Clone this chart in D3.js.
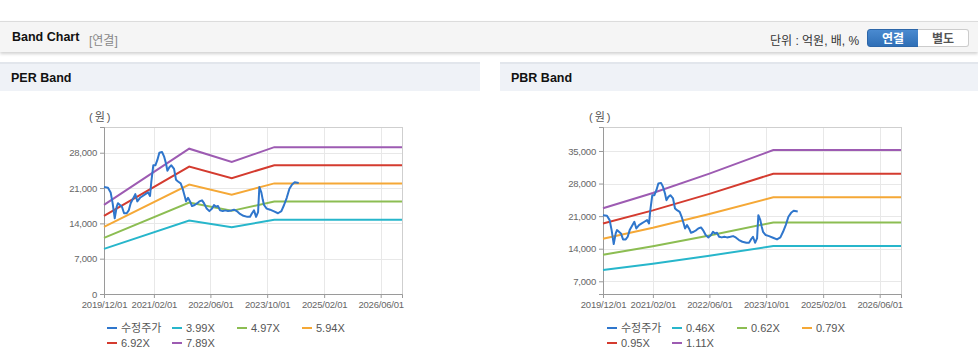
<!DOCTYPE html>
<html>
<head>
<meta charset="utf-8">
<script src="https://cdn.jsdelivr.net/npm/d3@7"></script>
<style>
  body { margin: 0; width: 978px; height: 362px; background: #fff; overflow: hidden;
         font-family: "Liberation Sans", Arial, "Noto Sans CJK KR", sans-serif; position: relative; }
  .topbar { position: absolute; left: 0; top: 21px; width: 978px; height: 30px; background: #f5f5f5;
            border-top: 1px solid #dcdcdc; box-shadow: 0 2px 3px rgba(0,0,0,0.18); }
  .title { position: absolute; left: 12px; top: 8px; font-size: 12.5px; font-weight: bold; color: #111; }
  .sub { position: absolute; left: 89px; top: 9px; font-size: 12px; color: #888; }
  .unit { position: absolute; left: 770px; top: 9px; font-size: 12px; color: #333; }
  .btn { position: absolute; top: 7px; height: 18px; line-height: 18px; width: 52px; text-align: center;
         font-size: 12px; font-weight: bold; box-sizing: border-box; }
  .btn.on { left: 867px; background: linear-gradient(#4a8ad0, #2f6fb6); color: #fff; border: 1px solid #2c66a8; border-radius: 3px 0 0 3px; }
  .btn.off { left: 918px; width: 51px; background: #fff; color: #555; border: 1px solid #ccc; border-left: none; border-radius: 0 3px 3px 0; }
  .panelhead { position: absolute; top: 62px; height: 29px; background: #eff2f7; border-top: 2px solid #e2e6ec; box-sizing: border-box; }
  .panelhead span { position: absolute; left: 11px; top: 7px; font-size: 12.5px; font-weight: bold; color: #111; }
  svg.chart { position: absolute; top: 92px; }
  .tick text { font-size: 9.5px; letter-spacing: -0.2px; fill: #666; font-family: "Liberation Sans", Arial, sans-serif; }
</style>
</head>
<body>
<div class="topbar">
  <div class="title">Band Chart</div>
  <div class="sub">[연결]</div>
  <div class="unit">단위 : 억원, 배, %</div>
  <div class="btn on">연결</div>
  <div class="btn off">별도</div>
</div>
<div class="panelhead" style="left:0;width:480px"><span>PER Band</span></div>
<div class="panelhead" style="left:500px;width:478px"><span>PBR Band</span></div>

<script>
// Adjusted share price (수정주가), shared by both charts
const priceDates = ['2019-12-01','2020-01-04','2020-01-27','2020-02-13','2020-03-02','2020-03-19','2020-03-30',
  '2020-04-16','2020-05-03','2020-05-21','2020-06-13','2020-06-30','2020-07-17','2020-08-26','2020-09-12',
  '2020-10-05','2020-10-28','2020-11-20','2020-12-13','2020-12-30','2021-01-10','2021-01-27','2021-02-14',
  '2021-03-03','2021-03-20','2021-04-12','2021-04-29','2021-05-16','2021-05-28','2021-06-14','2021-07-01',
  '2021-07-24','2021-08-10','2021-08-27','2021-09-19','2021-10-06','2021-10-23','2021-11-04','2021-11-21',
  '2021-12-08','2021-12-25','2022-01-17','2022-02-09','2022-02-26','2022-03-21','2022-04-07','2022-04-30',
  '2022-05-23','2022-06-15','2022-07-02','2022-07-19','2022-08-05','2022-08-23','2022-09-15','2022-10-07',
  '2022-10-30','2022-11-28','2022-12-21','2023-01-13','2023-02-10','2023-03-11','2023-04-14','2023-05-07',
  '2023-05-24','2023-06-10','2023-06-28','2023-07-15','2023-07-26','2023-08-12','2023-08-24','2023-09-04',
  '2023-09-27','2023-10-26','2023-11-29','2024-01-02','2024-01-31','2024-02-23','2024-03-17','2024-04-09',
  '2024-05-02','2024-05-24','2024-06-28'];
const priceValues = [21200,21070,20140,18000,15000,17290,18000,17640,17290,16000,16000,16570,18000,19790,18360,
  19070,19430,19790,20140,19430,22290,25500,25500,26570,28000,28140,27290,25860,24430,25140,25500,
  24790,22640,22290,21930,20860,19430,18360,19070,18360,17430,17640,18000,18360,18570,18000,16930,
  16430,16930,17640,17290,17430,16570,16430,16570,16430,16570,16710,16430,15860,15500,15290,15290,
  16000,16570,15290,16210,21210,20140,18710,17640,16930,16710,16360,16000,16430,17640,19070,20860,
  21710,22140,22000];

// PER band
const perDates = ['2019-12-01','2021-12-01','2022-12-01','2023-12-01','2026-12-01'];
const perNames = ['3.99X','4.97X','5.94X','6.92X','7.89X'];
const per399 = [8940, 14560, 13230, 14720, 14720];
const per497 = [11130, 18140, 16480, 18340, 18340];
const per594 = [13310, 21680, 19690, 21920, 21920];
const per692 = [15500, 25260, 22940, 25530, 25530];
const per789 = [17670, 28800, 26160, 29110, 29110];
const perTicks = [0, 7000, 14000, 21000, 28000];

// PBR band
const pbrDates = ['2019-12-01','2021-02-01','2022-06-01','2023-12-01','2026-12-01'];
const pbrNames = ['0.46X','0.62X','0.79X','0.95X','1.11X'];
const pbr046 = [9410, 10760, 12490, 14580, 14580];
const pbr062 = [12680, 14510, 16830, 19650, 19650];
const pbr079 = [16160, 18490, 21450, 25040, 25040];
const pbr095 = [19430, 22230, 25790, 30120, 30120];
const pbr111 = [22700, 25970, 30140, 35190, 35190];
const pbrTicks = [7000, 14000, 21000, 28000, 35000];

const xTickDates = ['2019-12-01','2021-02-01','2022-06-01','2023-10-01','2025-02-01','2026-06-01'];
const bandColors = ['#27b6cb', '#8cbd52', '#f5a836', '#d43b2f', '#9d5bb2'];
const priceColor = '#2f76cc';

const parseDate = d3.timeParse('%Y-%m-%d');

function drawBand(left, cfg) {
  let margin = { top: 35, left: cfg.marginLeft };
  let width = 298, height = 167;

  let svg = d3.select('body').append('svg')
    .attr('class', 'chart')
    .style('left', left + 'px')
    .attr('width', cfg.svgWidth)
    .attr('height', 268);

  let g = svg.append('g').attr('transform', `translate(${margin.left}, ${margin.top})`);

  let x = d3.scaleTime()
    .domain([parseDate('2019-12-01'), parseDate('2026-12-01')])
    .range([0, width]);
  let y = d3.scaleLinear().domain(cfg.yDomain).range([height, 0]);

  // grid
  g.append('g').selectAll('line').data(cfg.ticks).enter().append('line')
    .attr('x1', 0).attr('x2', width)
    .attr('y1', d => Math.round(y(d)) + 0.5).attr('y2', d => Math.round(y(d)) + 0.5)
    .attr('stroke', '#e8e8e8');
  g.append('g').selectAll('line').data(xTickDates.slice(1)).enter().append('line')
    .attr('y1', 0).attr('y2', height)
    .attr('x1', d => Math.round(x(parseDate(d))) + 0.5).attr('x2', d => Math.round(x(parseDate(d))) + 0.5)
    .attr('stroke', '#e8e8e8');

  g.append('rect')
    .attr('x', 0.5).attr('y', 0.5).attr('width', width).attr('height', height)
    .attr('fill', 'none').attr('stroke', '#cfcfcf');

  // axes
  let xAxis = g.append('g')
    .attr('transform', `translate(0, ${height})`)
    .call(d3.axisBottom(x).tickValues(xTickDates.map(parseDate))
      .tickFormat(d3.timeFormat('%Y/%m/%d')).tickSize(4).tickPadding(3));
  let yAxis = g.append('g')
    .call(d3.axisLeft(y).tickValues(cfg.ticks).tickFormat(d3.format(',')).tickSize(4).tickPadding(3));
  [xAxis, yAxis].forEach(a => {
    a.select('.domain').attr('stroke', '#9a9a9a');
    a.selectAll('.tick line').attr('stroke', '#9a9a9a');
  });

  svg.append('text')
    .attr('x', 89).attr('y', 29)
    .attr('font-size', '11px').attr('fill', '#555')
    .attr('letter-spacing', '2px')
    .text('(원)');

  let line = d3.line().x(d => x(d[0])).y(d => y(d[1]));

  cfg.bands.forEach((vals, i) => {
    g.append('path')
      .datum(cfg.dates.map((d, j) => [parseDate(d), vals[j]]))
      .attr('d', line)
      .attr('fill', 'none')
      .attr('stroke', bandColors[i])
      .attr('stroke-width', 2);
  });

  g.append('path')
    .datum(priceDates.map((d, j) => [parseDate(d), priceValues[j]]))
    .attr('d', line)
    .attr('fill', 'none')
    .attr('stroke', priceColor)
    .attr('stroke-width', 2)
    .attr('stroke-linejoin', 'round');

  // legend
  let items = [{ name: '수정주가', color: priceColor }]
    .concat(cfg.names.map((n, i) => ({ name: n, color: bandColors[i] })));
  let legend = svg.append('g');
  items.forEach((it, i) => {
    let lx = 107 + (i % 4) * 65;
    let ly = 236 + Math.floor(i / 4) * 15;
    legend.append('line')
      .attr('x1', lx).attr('x2', lx + 10).attr('y1', ly).attr('y2', ly)
      .attr('stroke', it.color).attr('stroke-width', 2);
    legend.append('text')
      .attr('x', lx + 14).attr('y', ly).attr('dy', '0.35em')
      .attr('font-size', '11px').attr('fill', '#555')
      .text(it.name);
  });
}

drawBand(0, {
  marginLeft: 104, svgWidth: 480, yDomain: [0, 33100], ticks: perTicks,
  dates: perDates, names: perNames, bands: [per399, per497, per594, per692, per789]
});
drawBand(500, {
  marginLeft: 103, svgWidth: 478, yDomain: [4270, 40150], ticks: pbrTicks,
  dates: pbrDates, names: pbrNames, bands: [pbr046, pbr062, pbr079, pbr095, pbr111]
});
</script>
</body>
</html>
